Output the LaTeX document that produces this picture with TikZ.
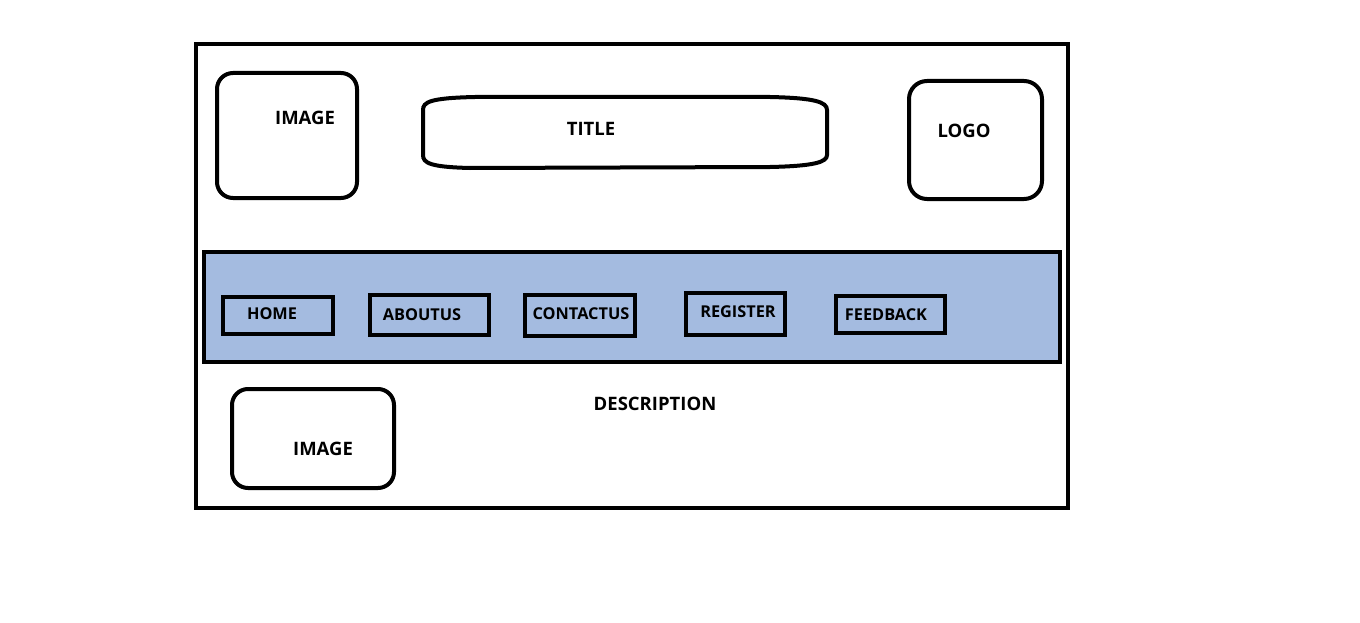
\documentclass[tikz,border=0pt]{standalone}
\usepackage{fontspec}
\setmainfont{Open Sans}
\definecolor{navblue}{RGB}{164,187,224}
\begin{document}
\begin{tikzpicture}[x=1pt,y=-1pt,
  frame/.style={draw=black,line width=4pt},
  rbox/.style={draw=black,line width=4pt,rounded corners=16pt,inner sep=0pt},
  btn/.style={draw=black,line width=4.5pt,inner sep=0pt},
  lbl/.style={font=\bfseries\fontsize{18.5}{21}\selectfont,inner sep=0pt},
  navlbl/.style={font=\bfseries\fontsize{16.3}{19}\selectfont,inner sep=0pt}]
\useasboundingbox (0,0) rectangle (1360,623);
\fill[white] (0,0) rectangle (1360,623);
% outer frame
\node[frame,inner sep=0pt,minimum width=872pt,minimum height=464pt] (page) at (632,276) {};
% top row
\node[rbox,minimum width=140pt,minimum height=125pt] (img1) at (287,135.5) {};
\node[lbl] (img1t) at (305,118) {IMAGE};
\draw[frame] (475,97) -- (770,97) .. controls (815,98) and (827,102) .. (827,110) -- (827,155)
  .. controls (827,162) and (815,166) .. (770,167) -- (470,168)
  .. controls (430,167) and (423,163) .. (423,155) -- (423,110)
  .. controls (423,102) and (430,98) .. (475,97) -- cycle;
\node[lbl] (title) at (591,129) {TITLE};
\node[rbox,rounded corners=18pt,minimum width=133pt,minimum height=118pt] (logo) at (975.5,140) {};
\node[lbl] (logot) at (964,131) {LOGO};
% navigation bar
\node[btn,fill=navblue,minimum width=856pt,minimum height=110pt] (nav) at (632,307) {};
\node[btn,minimum width=110pt,minimum height=37pt] (home) at (278,315.5) {};
\node[navlbl] (homet) at (272,314) {HOME};
\node[btn,minimum width=119pt,minimum height=40pt] (about) at (429.5,315) {};
\node[navlbl] (aboutt) at (422,315) {ABOUTUS};
\node[btn,minimum width=110pt,minimum height=41pt] (contact) at (580,315.5) {};
\node[navlbl] (contactt) at (581,314) {CONTACTUS};
\node[btn,minimum width=99pt,minimum height=42pt] (register) at (735.5,314) {};
\node[navlbl] (registert) at (738,312) {REGISTER};
\node[btn,minimum width=109pt,minimum height=37pt] (feedback) at (890.5,314.5) {};
\node[navlbl] (feedbackt) at (886,315) {FEEDBACK};
% bottom row
\node[rbox,minimum width=162pt,minimum height=99pt] (img2) at (313,438.5) {};
\node[lbl] (img2t) at (323,449) {IMAGE};
\node[lbl] (desc) at (655,404) {DESCRIPTION};
\end{tikzpicture}
\end{document}
